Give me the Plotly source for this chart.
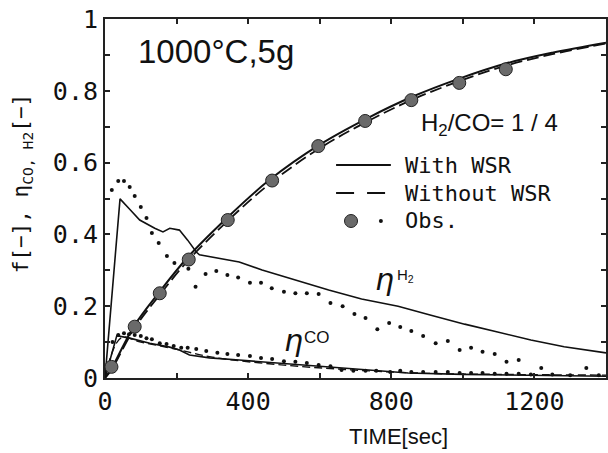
import plotly.graph_objects as go

# ---------------- data ----------------
t_f_obs = [18, 83, 153, 234, 343, 467, 596, 727, 856, 990, 1120]
f_obs = [0.031, 0.143, 0.236, 0.33, 0.44, 0.55, 0.646, 0.716, 0.774, 0.822, 0.86]

t_f_calc = [0, 20, 80, 150, 230, 340, 460, 600, 730, 860, 990, 1120, 1250, 1400]
f_with = [0, 0.03, 0.143, 0.237, 0.335, 0.445, 0.552, 0.65, 0.722, 0.784, 0.834, 0.876, 0.906, 0.934]
f_without = [0, 0.026, 0.135, 0.228, 0.325, 0.435, 0.541, 0.64, 0.713, 0.776, 0.827, 0.87, 0.902, 0.932]

t_h2_calc = [0, 42, 69, 97, 139, 162, 181, 208, 231, 255, 264, 375, 439, 532, 625, 717, 819, 911,
             1005, 1097, 1190, 1283, 1400]
eta_h2_calc = [0, 0.499, 0.47, 0.44, 0.417, 0.407, 0.417, 0.412, 0.384, 0.351, 0.343, 0.323, 0.301,
               0.273, 0.245, 0.22, 0.2, 0.175, 0.15, 0.128, 0.106, 0.087, 0.07]

t_h2_obs = [19, 37, 53, 69, 83, 100, 116, 131, 150, 173, 194, 233, 253, 281, 311, 342, 372, 405, 436,
            466, 500, 532, 564, 597, 630, 664, 697, 728, 761, 794, 825, 856, 889, 924, 958, 991, 1023,
            1055, 1089, 1122, 1156, 1219, 1345]
eta_h2_obs = [0.524, 0.549, 0.549, 0.532, 0.507, 0.476, 0.446, 0.404, 0.376, 0.34, 0.32, 0.304, 0.254,
              0.29, 0.298, 0.287, 0.28, 0.265, 0.265, 0.25, 0.24, 0.236, 0.236, 0.234, 0.209, 0.2,
              0.178, 0.167, 0.136, 0.153, 0.142, 0.131, 0.117, 0.097, 0.103, 0.078, 0.084, 0.073,
              0.067, 0.045, 0.05, 0.028, 0.028]

t_co_calc = [0, 33, 69, 125, 181, 208, 236, 292, 375, 500, 650, 847, 1000, 1200, 1400]
eta_co_with = [0, 0.118, 0.111, 0.097, 0.086, 0.078, 0.064, 0.056, 0.05, 0.04, 0.028, 0.014, 0.01,
               0.007, 0.005]
t_co_wo = [0, 45, 100, 200, 300, 500, 700, 900, 1100, 1400]
eta_co_without = [0, 0.112, 0.1, 0.08, 0.058, 0.036, 0.022, 0.013, 0.01, 0.008]

t_co_obs = [21, 37, 53, 67, 83, 100, 116, 131, 153, 172, 192, 213, 231, 255, 283, 314, 342, 372, 405,
            436, 467, 500, 532, 564, 597, 630, 661, 694, 728, 758, 797, 825, 856, 889, 924, 958, 991,
            1023, 1055, 1089, 1122, 1156, 1190, 1250, 1300, 1380]
eta_co_obs = [0.1, 0.12, 0.125, 0.122, 0.12, 0.117, 0.111, 0.108, 0.097, 0.095, 0.089, 0.084, 0.084,
              0.081, 0.075, 0.07, 0.067, 0.064, 0.061, 0.056, 0.053, 0.047, 0.045, 0.042, 0.036,
              0.033, 0.022, 0.02, 0.02, 0.02, 0.017, 0.02, 0.017, 0.017, 0.017, 0.017, 0.014, 0.014,
              0.014, 0.012, 0.012, 0.012, 0.01, 0.01, 0.008, 0.008]

x_ticks = [0, 400, 800, 1200]
y_ticks = [0, 0.2, 0.4, 0.6, 0.8, 1]
y_tick_text = ["0", "0.2", "0.4", "0.6", "0.8", "1"]

# ---------------- figure ----------------
W, H = 608, 453
L, R, T, B = 105, 0, 19, 75
PW, PH = W - L - R, H - T - B


def px(x):
    return (x - L) / PW


def py(y):
    return (H - B - y) / PH


fig = go.Figure()
black = "#111111"

fig.add_trace(go.Scatter(x=t_f_calc, y=f_without, mode="lines", line=dict(color=black, width=1.8, dash="12px,5px", shape="spline")))
fig.add_trace(go.Scatter(x=t_f_calc, y=f_with, mode="lines", line=dict(color=black, width=2, shape="spline")))
fig.add_trace(go.Scatter(x=t_h2_calc, y=eta_h2_calc, mode="lines", line=dict(color=black, width=1.6)))
fig.add_trace(go.Scatter(x=t_co_calc, y=eta_co_with, mode="lines", line=dict(color=black, width=1.6)))
fig.add_trace(go.Scatter(x=t_co_wo, y=eta_co_without, mode="lines", line=dict(color=black, width=1.4, dash="8px,4px", shape="spline")))
fig.add_trace(go.Scatter(x=t_h2_obs, y=eta_h2_obs, mode="markers", marker=dict(color=black, size=4)))
fig.add_trace(go.Scatter(x=t_co_obs, y=eta_co_obs, mode="markers", marker=dict(color=black, size=4)))
fig.add_trace(go.Scatter(x=t_f_obs, y=f_obs, mode="markers",
                         marker=dict(color="#6a6a6a", size=13, line=dict(color="#222222", width=1))))

axis_common = dict(showgrid=False, zeroline=False, showline=True, linecolor="#222222", linewidth=2,
                   mirror="allticks", ticks="inside", ticklen=5, tickwidth=1.5, tickcolor="#222222",
                   tickfont=dict(family="DejaVu Sans Mono", size=25, color=black))

fig.update_layout(
    width=W, height=H, margin=dict(l=L, r=R, t=T, b=B),
    paper_bgcolor="white", plot_bgcolor="white", showlegend=False,
    xaxis=dict(range=[0, 1400], tickvals=x_ticks, ticktext=[str(v) for v in x_ticks],
               minor=dict(dtick=200, ticks="inside", ticklen=5, tickcolor="#222222"), **axis_common),
    yaxis=dict(range=[0, 1], tickvals=y_ticks, ticktext=y_tick_text,
               minor=dict(dtick=0.1, ticks="inside", ticklen=5, tickcolor="#222222"), **axis_common),
)

ann = []
mono = "DejaVu Sans Mono"
ann.append(dict(text="1000°C,5g", x=px(136), y=py(51), xanchor="left", yanchor="middle",
                font=dict(family="Liberation Sans", size=33, color=black)))
ann.append(dict(text="H<sub>2</sub>/CO= 1 / 4", x=px(420), y=py(124), xanchor="left", yanchor="middle",
                font=dict(family="Liberation Sans", size=24, color=black)))
for txt, yy in [("With WSR", 165), ("Without WSR", 193), ("Obs.", 221)]:
    ann.append(dict(text=txt, x=px(404), y=py(yy), xanchor="left", yanchor="middle",
                    font=dict(family=mono, size=22, color=black)))
ann.append(dict(text="<i>η</i>", x=px(386), y=py(279), xanchor="center", yanchor="middle",
                font=dict(family="DejaVu Sans", size=30, color=black)))
ann.append(dict(text="H<sub>2</sub>", x=px(396), y=py(275), xanchor="left", yanchor="middle",
                font=dict(family="Liberation Sans", size=15, color=black)))
ann.append(dict(text="<i>η</i>", x=px(294), y=py(340), xanchor="center", yanchor="middle",
                font=dict(family="DejaVu Sans", size=30, color=black)))
ann.append(dict(text="CO", x=px(303), y=py(337), xanchor="left", yanchor="middle",
                font=dict(family="Liberation Sans", size=17, color=black)))
ann.append(dict(text="TIME[sec]", x=px(400), y=py(436), xanchor="center", yanchor="middle",
                font=dict(family="Liberation Sans", size=22, color=black)))
ann.append(dict(text="f[−], η<sub>CO, H2</sub>[−]", x=px(22), y=py(183), xanchor="center", yanchor="middle",
                textangle=-90, font=dict(family=mono, size=21, color=black)))
for a in ann:
    a.update(xref="paper", yref="paper", showarrow=False)
fig.update_layout(annotations=ann)

shapes = [
    dict(type="line", x0=px(337), x1=px(392), y0=py(165), y1=py(165), line=dict(color=black, width=2)),
    dict(type="line", x0=px(337), x1=px(392), y0=py(193), y1=py(193), line=dict(color=black, width=2, dash="18px,13px")),
    dict(type="circle", xsizemode="pixel", ysizemode="pixel", xanchor=px(352), yanchor=py(221),
         x0=-6.5, x1=6.5, y0=-6.5, y1=6.5, fillcolor="#6a6a6a", line=dict(color="#222222", width=1)),
    dict(type="circle", xsizemode="pixel", ysizemode="pixel", xanchor=px(382), yanchor=py(221),
         x0=-2, x1=2, y0=-2, y1=2, fillcolor=black, line=dict(color=black, width=0)),
]
for s in shapes:
    s.update(xref="paper", yref="paper")
fig.update_layout(shapes=shapes)

fig.write_html("out.html")
